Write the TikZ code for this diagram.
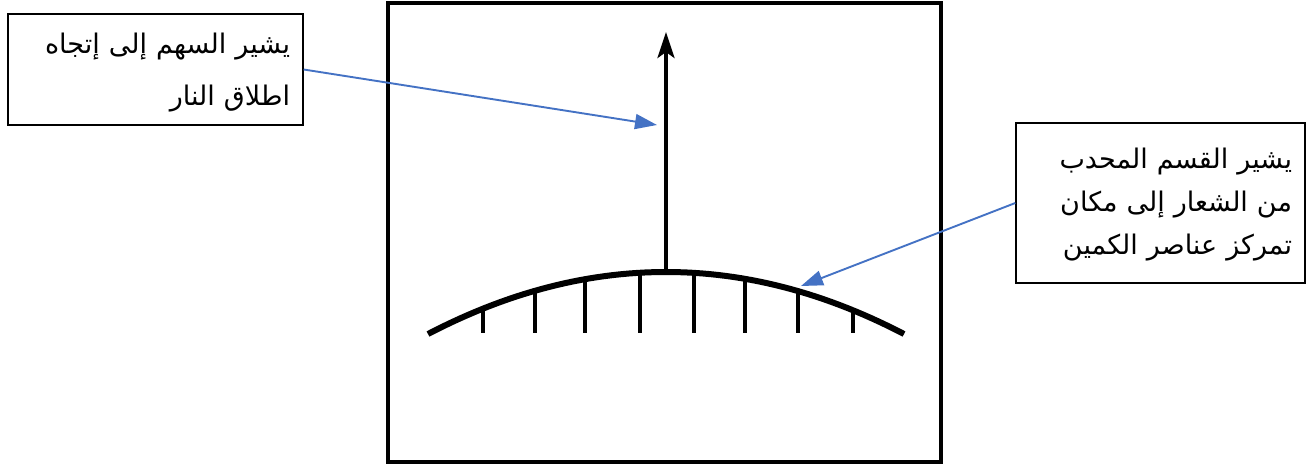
\documentclass[tikz,border=0pt]{standalone}
\usepackage{fontspec}
\newfontfamily\arabicfont[Script=Arabic]{DejaVu Sans}
\TeXXeTstate=1
\usetikzlibrary{arrows.meta}
\definecolor{callblue}{RGB}{68,114,196}
\tikzset{
  callout/.style={draw=black, line width=1.4pt, rectangle, inner sep=0pt, align=right},
  bluearrow/.style={draw=callblue, line width=1.9pt, -{Triangle[length=22pt,width=15pt]}},
  heavy/.style={line width=3.8pt, black},
}
\begin{document}
\begin{tikzpicture}[x=1pt,y=-1pt]
\useasboundingbox (0,0) rectangle (1309,465);
% frame
\draw[heavy] (388,3) rectangle (941,462);
% emblem arc
\draw[line width=6pt] plot[domain=428:904, samples=60] (\x,{272+62*((\x-666)/238)^2});
\foreach \x in {483,535,585,640,694,745,798,853}
  \draw[heavy] (\x,{272+62*((\x-666)/238)^2}) -- (\x,333);
\coordinate (base) at (666,272);
\coordinate (tip) at (666,32);
\draw[heavy, -{Stealth[length=26pt,width=17pt,inset=6pt]}] (base) -- (tip);
% callouts
\node[callout, minimum width=295pt, minimum height=111pt] (lbox) at (155.5,69.5) {};
\node[font=\arabicfont\fontsize{27}{47}\selectfont, align=right, text width=270pt, inner sep=0pt] (ltext) at (155,73)
  {\beginR يشير السهم إلى إتجاه\endR\\[5pt]\beginR اطلاق النار\endR};
\node[callout, minimum width=289pt, minimum height=160pt] (rbox) at (1160.5,203) {};
\node[font=\arabicfont\fontsize{27}{43}\selectfont, align=right, text width=266pt, inner sep=0pt] (rtext) at (1159,205)
  {\beginR يشير القسم المحدب\endR\\\beginR من الشعار إلى مكان\endR\\\beginR تمركز عناصر الكمين\endR};
\coordinate (ltip) at (657,125);
\coordinate (rtip) at (801,286);
\draw[bluearrow] (lbox.east) -- (ltip);
\draw[bluearrow] (rbox.west) -- (rtip);
\end{tikzpicture}
\end{document}
